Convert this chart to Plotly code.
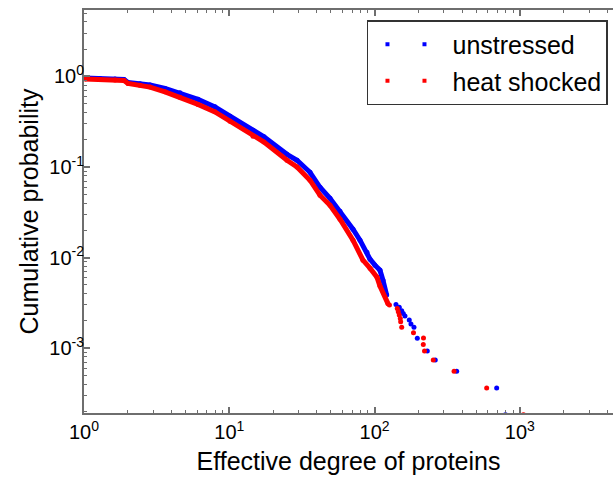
import plotly.graph_objects as go

# ---- data ----
unstressed_deg_body = [1.016, 1.289, 1.635, 1.885, 2.008, 2.429, 2.846, 3.610, 4.578, 6.09, 7.97,
                       10.11, 14.56, 17.33, 24.95, 29.24, 35.93, 42.1, 49.33, 57.8, 71.02, 79.36,
                       88.66, 92.98, 100.6, 108.9, 114.2, 121.1]
unstressed_prob_body = [0.963, 0.950, 0.938, 0.927, 0.859, 0.827, 0.806, 0.737, 0.658, 0.558, 0.461,
                        0.362, 0.254, 0.215, 0.138, 0.1186, 0.0874, 0.0597, 0.0452, 0.0325, 0.02056,
                        0.01555, 0.01147, 0.0096, 0.00824, 0.00726, 0.00563, 0.00385]
unstressed_deg_tail = [140.4, 147.9, 153.7, 157.6, 161.9, 173.3, 178.0, 186.7, 196.8, 230.6, 261.7,
                       367.3, 692.3, 796.0]
unstressed_prob_tail = [0.00304, 0.00282, 0.002584, 0.00242, 0.00226, 0.00204, 0.001843, 0.001696,
                        0.001282, 0.000929, 0.000739, 0.000555, 0.000363, 0.0001844]

heat_deg_body = [1.016, 1.289, 1.635, 1.885, 2.008, 2.429, 2.846, 3.610, 4.578, 6.09, 7.97,
                 10.11, 14.56, 17.33, 24.95, 29.24, 35.93, 42.1, 49.33, 57.8, 71.02, 83.2,
                 92.98, 103.9, 108.9, 123.6]
heat_prob_body = [0.938, 0.927, 0.915, 0.903, 0.837, 0.796, 0.762, 0.675, 0.587, 0.491, 0.406,
                  0.319, 0.218, 0.1887, 0.1186, 0.100, 0.0714, 0.0488, 0.0378, 0.0265, 0.01555,
                  0.00936, 0.00764, 0.00608, 0.00484, 0.0031]
heat_deg_tail = [126.6, 143.3, 145.6, 147.9, 150.3, 151.2, 153.7, 185.2, 217.1, 216.4, 220.6,
                 253.5, 352.4, 590.8, 1058.8]
heat_prob_tail = [0.002987, 0.002747, 0.00252, 0.002317, 0.00213, 0.001954, 0.001696, 0.001478,
                  0.001292, 0.0011, 0.000929, 0.000739, 0.000555, 0.000363, 0.0001844]

series_names = ["unstressed", "heat shocked"]
series_colors = ["#0000ff", "#ff0000"]

x_tick_vals = [1, 10, 100, 1000]
x_tick_text = ["10<sup>0</sup>", "10<sup>1</sup>", "10<sup>2</sup>", "10<sup>3</sup>"]
y_tick_vals = [1, 0.1, 0.01, 0.001]
y_tick_text = ["10<sup>0</sup>", "10<sup>-1</sup>", "10<sup>-2</sup>", "10<sup>-3</sup>"]

FONT = "Liberation Sans, Arial, sans-serif"
AXIS_COLOR = "#6e6e6e"
TEXT_COLOR = "#000000"

fig = go.Figure()

bodies = [(unstressed_deg_body, unstressed_prob_body, unstressed_deg_tail, unstressed_prob_tail),
          (heat_deg_body, heat_prob_body, heat_deg_tail, heat_prob_tail)]

for (xb, yb, xt, yt), name, col in zip(bodies, series_names, series_colors):
    fig.add_trace(go.Scatter(x=xb, y=yb, mode="lines+markers", showlegend=False,
                             line=dict(color=col, width=5), marker=dict(color=col, size=5),
                             name=name))
    fig.add_trace(go.Scatter(x=xt, y=yt, mode="markers", showlegend=False,
                             marker=dict(color=col, size=5), name=name))

# legend entries (two dots per entry, as in the reference)
for i, (name, col) in enumerate(zip(series_names, series_colors)):
    fig.add_trace(go.Scatter(x=[None], y=[None], mode="lines", name=name, legendgroup=f"g{i}",
                             line=dict(color=col, width=4, dash="0px,12px,4px,33px,4px,300px")))

minor_x = [m * 10 ** k for k in range(0, 4) for m in range(2, 10)]
minor_y = [m * 10.0 ** k for k in range(-4, 1) for m in range(2, 10)]

fig.update_xaxes(type="log", range=[0, 3.641], tickvals=x_tick_vals, ticktext=x_tick_text,
                 ticks="inside", ticklen=6, tickwidth=1.5, tickcolor=AXIS_COLOR,
                 showline=True, linecolor=AXIS_COLOR, linewidth=2, mirror="allticks",
                 showgrid=False, zeroline=False,
                 minor=dict(tickvals=minor_x, ticks="inside", ticklen=3, tickcolor=AXIS_COLOR,
                            tickwidth=1, showgrid=False),
                 tickfont=dict(family=FONT, size=20, color=TEXT_COLOR),
                 title=dict(text="Effective degree of proteins",
                            font=dict(family=FONT, size=25, color=TEXT_COLOR), standoff=10))
fig.update_yaxes(type="log", range=[-3.716, 0.733], tickvals=y_tick_vals, ticktext=y_tick_text,
                 ticks="inside", ticklen=6, tickwidth=1.5, tickcolor=AXIS_COLOR,
                 showline=True, linecolor=AXIS_COLOR, linewidth=2, mirror=False,
                 showgrid=False, zeroline=False, ticklabelstandoff=-6,
                 minor=dict(tickvals=minor_y, ticks="inside", ticklen=3, tickcolor=AXIS_COLOR,
                            tickwidth=1, showgrid=False),
                 tickfont=dict(family=FONT, size=20, color=TEXT_COLOR),
                 title=dict(text="Cumulative probability",
                            font=dict(family=FONT, size=25, color=TEXT_COLOR), standoff=4))

fig.update_layout(
    width=613, height=479,
    margin=dict(l=84, r=0, t=10, b=66),
    paper_bgcolor="white", plot_bgcolor="white",
    font=dict(family=FONT, color=TEXT_COLOR),
    legend=dict(x=0.9905, xanchor="right", y=0.975, yanchor="top",
                bordercolor="#333", borderwidth=1.5, bgcolor="white",
                traceorder="grouped", tracegroupgap=1,
                font=dict(family=FONT, size=25, color=TEXT_COLOR), itemwidth=74),
)

fig.write_html("out.html")
